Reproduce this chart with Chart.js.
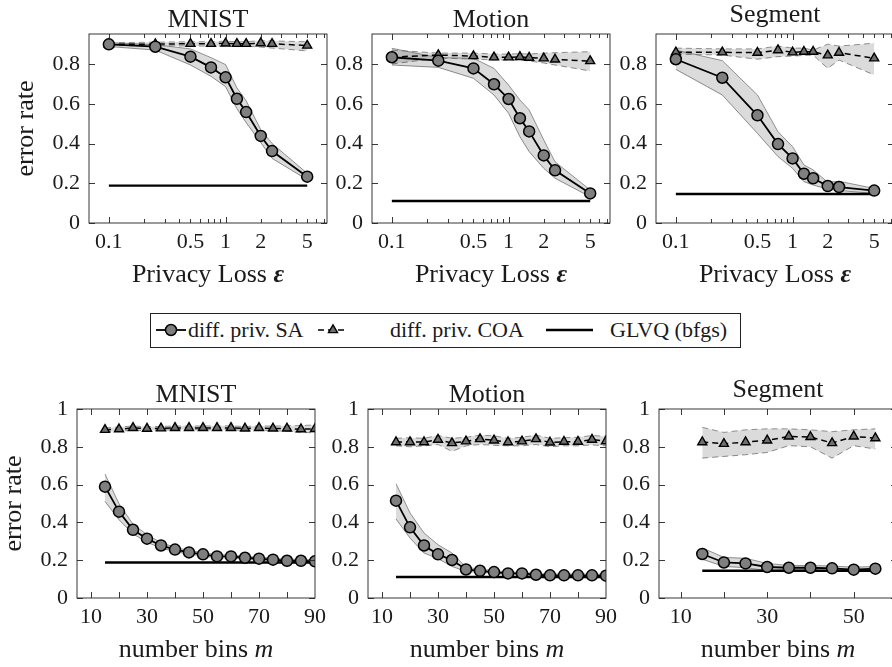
<!DOCTYPE html>
<html>
<head>
<meta charset="utf-8">
<script src="https://cdn.jsdelivr.net/npm/chart.js@4.4.1/dist/chart.umd.min.js"></script>
<style>
  body { margin: 0; background: #fff; }
  #fig { position: relative; width: 892px; height: 667px; overflow: hidden; background: #fff; }
  #fig canvas { position: absolute; }
  #legend { position: absolute; left: 150px; top: 313px; width: 591px; height: 35px; border: 1px solid #222; box-sizing: border-box;
            font-family: "Liberation Serif", "Times New Roman", serif; font-size: 22px; color: #1a1a1a; }
  #legend span, #legend svg { position: absolute; }
  #legend span { top: 4px; line-height: 24px; white-space: pre; }
  #legend svg { top: 6px; }
</style>
</head>
<body>
<div id="fig">
  <div id="legend">
    <svg style="left:4px" width="32" height="20">
      <line x1="1" y1="10" x2="31" y2="10" stroke="#000" stroke-width="1.8"/>
      <circle cx="16" cy="10" r="5.5" fill="#7f7f7f" stroke="#000" stroke-width="1.5"/>
    </svg>
    <span style="left:37px">diff. priv. SA</span>
    <svg style="left:166px" width="32" height="20">
      <line x1="1" y1="10" x2="31" y2="10" stroke="#000" stroke-width="1.5" stroke-dasharray="6 4"/>
      <polygon points="16,4.8 20.5,12.6 11.5,12.6" fill="#6f6f6f" stroke="#000" stroke-width="1.4"/>
    </svg>
    <span style="left:239px">diff. priv. COA</span>
    <svg style="left:394px" width="50" height="20">
      <line x1="1" y1="10" x2="48" y2="10" stroke="#000" stroke-width="2.4"/>
    </svg>
    <span style="left:459px">GLVQ (bfgs)</span>
  </div>
</div>
<script>
// privacy loss epsilon (top row) and number of bins (bottom row)
const eps = [0.1, 0.25, 0.5, 0.75, 1, 1.25, 1.5, 2, 2.5, 5];
const bins = [15, 20, 25, 30, 35, 40, 45, 50, 55, 60, 65, 70, 75, 80, 85, 90];
const binsSeg = [15, 20, 25, 30, 35, 40, 45, 50, 55];

// top row - MNIST
const mnistEpsSA   = [0.899, 0.887, 0.837, 0.783, 0.733, 0.625, 0.558, 0.438, 0.362, 0.233];
const mnistEpsSALo = [0.888, 0.870, 0.795, 0.738, 0.686, 0.575, 0.505, 0.405, 0.325, 0.218];
const mnistEpsSAHi = [0.908, 0.897, 0.876, 0.832, 0.797, 0.680, 0.615, 0.470, 0.400, 0.250];
const mnistEpsCOA   = [0.900, 0.900, 0.902, 0.902, 0.904, 0.902, 0.902, 0.905, 0.902, 0.893];
const mnistEpsCOALo = [0.893, 0.892, 0.890, 0.890, 0.890, 0.890, 0.890, 0.885, 0.880, 0.866];
const mnistEpsCOAHi = [0.907, 0.910, 0.912, 0.912, 0.915, 0.912, 0.912, 0.918, 0.916, 0.912];
const mnistGLVQ = 0.188;

// top row - Motion
const motionEpsSA   = [0.834, 0.817, 0.778, 0.698, 0.624, 0.527, 0.461, 0.340, 0.265, 0.149];
const motionEpsSALo = [0.795, 0.783, 0.728, 0.644, 0.552, 0.434, 0.359, 0.275, 0.225, 0.132];
const motionEpsSAHi = [0.879, 0.832, 0.829, 0.778, 0.694, 0.619, 0.569, 0.418, 0.308, 0.166];
const motionEpsCOA   = [0.835, 0.845, 0.840, 0.834, 0.834, 0.836, 0.832, 0.829, 0.823, 0.815];
const motionEpsCOALo = [0.800, 0.830, 0.825, 0.820, 0.820, 0.820, 0.815, 0.805, 0.795, 0.765];
const motionEpsCOAHi = [0.870, 0.855, 0.855, 0.850, 0.850, 0.852, 0.850, 0.855, 0.857, 0.862];
const motionGLVQ = 0.111;

// top row - Segment
const segEpsSA   = [0.824, 0.731, 0.542, 0.397, 0.325, 0.248, 0.225, 0.186, 0.181, 0.163];
const segEpsSALo = [0.773, 0.644, 0.451, 0.334, 0.275, 0.208, 0.191, 0.170, 0.163, 0.149];
const segEpsSAHi = [0.870, 0.817, 0.644, 0.459, 0.384, 0.292, 0.267, 0.205, 0.210, 0.174];
const segEpsCOA   = [0.859, 0.859, 0.857, 0.870, 0.859, 0.862, 0.862, 0.844, 0.857, 0.829];
const segEpsCOALo = [0.850, 0.845, 0.824, 0.837, 0.840, 0.843, 0.845, 0.778, 0.820, 0.745];
const segEpsCOAHi = [0.880, 0.876, 0.876, 0.890, 0.880, 0.880, 0.870, 0.900, 0.890, 0.905];
const segGLVQ = 0.146;

// bottom row - MNIST
const mnistBinSA   = [0.589, 0.457, 0.361, 0.314, 0.278, 0.256, 0.241, 0.231, 0.220, 0.220, 0.213, 0.208, 0.203, 0.197, 0.197, 0.194];
const mnistBinSALo = [0.511, 0.414, 0.339, 0.295, 0.264, 0.245, 0.232, 0.222, 0.212, 0.212, 0.205, 0.200, 0.195, 0.190, 0.190, 0.187];
const mnistBinSAHi = [0.656, 0.499, 0.390, 0.335, 0.293, 0.268, 0.251, 0.240, 0.229, 0.228, 0.221, 0.216, 0.211, 0.205, 0.205, 0.202];
const mnistBinCOA   = [0.890, 0.893, 0.900, 0.896, 0.898, 0.900, 0.900, 0.900, 0.900, 0.900, 0.897, 0.900, 0.897, 0.897, 0.893, 0.895];
const mnistBinCOALo = [0.880, 0.882, 0.888, 0.886, 0.888, 0.890, 0.890, 0.890, 0.890, 0.889, 0.887, 0.889, 0.885, 0.882, 0.876, 0.874];
const mnistBinCOAHi = [0.900, 0.905, 0.910, 0.906, 0.908, 0.910, 0.910, 0.910, 0.910, 0.911, 0.907, 0.911, 0.909, 0.912, 0.912, 0.916];

// bottom row - Motion
const motionBinSA   = [0.515, 0.374, 0.278, 0.231, 0.201, 0.151, 0.144, 0.137, 0.130, 0.130, 0.123, 0.120, 0.120, 0.120, 0.120, 0.118];
const motionBinSALo = [0.418, 0.317, 0.238, 0.208, 0.167, 0.140, 0.136, 0.130, 0.123, 0.123, 0.116, 0.113, 0.113, 0.113, 0.113, 0.111];
const motionBinSAHi = [0.605, 0.450, 0.344, 0.282, 0.238, 0.162, 0.153, 0.145, 0.137, 0.137, 0.130, 0.127, 0.127, 0.127, 0.127, 0.125];
const motionBinCOA   = [0.825, 0.825, 0.825, 0.838, 0.820, 0.829, 0.841, 0.834, 0.825, 0.829, 0.841, 0.823, 0.827, 0.827, 0.838, 0.830];
const motionBinCOALo = [0.805, 0.800, 0.805, 0.812, 0.776, 0.805, 0.812, 0.808, 0.805, 0.805, 0.812, 0.800, 0.805, 0.805, 0.810, 0.805];
const motionBinCOAHi = [0.845, 0.848, 0.845, 0.860, 0.845, 0.850, 0.862, 0.858, 0.845, 0.850, 0.862, 0.845, 0.848, 0.850, 0.860, 0.855];

// bottom row - Segment
const segBinSA   = [0.233, 0.188, 0.183, 0.164, 0.160, 0.160, 0.157, 0.150, 0.155];
const segBinSALo = [0.205, 0.167, 0.160, 0.145, 0.148, 0.148, 0.145, 0.138, 0.143];
const segBinSAHi = [0.265, 0.215, 0.210, 0.183, 0.172, 0.172, 0.169, 0.163, 0.167];
const segBinCOA   = [0.825, 0.816, 0.825, 0.834, 0.855, 0.852, 0.820, 0.855, 0.846];
const segBinCOALo = [0.740, 0.749, 0.758, 0.770, 0.806, 0.800, 0.740, 0.806, 0.788];
const segBinCOAHi = [0.903, 0.876, 0.890, 0.895, 0.895, 0.890, 0.880, 0.890, 0.895];
const segBinGLVQ = 0.144;

// axis ticks
const epsLabels = [0.1, 0.5, 1, 2, 5];
const epsMajor = [0.1, 1];
const epsMinor = [0.2, 0.3, 0.4, 0.5, 0.6, 0.7, 0.8, 0.9, 2, 3, 4, 5, 6, 7];
const errTopTicks = [0, 0.2, 0.4, 0.6, 0.8];
const errBotTicks = [0, 0.2, 0.4, 0.6, 0.8, 1];
const binLabels = [10, 30, 50, 70, 90];
const binTicks = [10, 20, 30, 40, 50, 60, 70, 80, 90];

const FONT = '"Liberation Serif", "Times New Roman", serif';
const INK = '#1a1a1a';
const BAND = 'rgba(0,0,0,0.14)';
const PLOT_W = 238, PLOT_H = 189;

Chart.defaults.font.family = FONT;
Chart.defaults.color = INK;

// frame plus inward tick marks on all four sides (pgfplots style)
const frame = {
  id: 'frame',
  afterDatasetsDraw(chart, args, o) {
    const { ctx, chartArea: a, scales: { x, y } } = chart;
    ctx.save();
    ctx.strokeStyle = '#222';
    ctx.lineWidth = 0.9;
    ctx.beginPath();
    const xt = (vals, len) => vals.forEach(v => {
      const p = Math.round(x.getPixelForValue(v)) + 0.5;
      if (p < a.left || p > a.right) return;
      ctx.moveTo(p, a.bottom); ctx.lineTo(p, a.bottom - len);
      ctx.moveTo(p, a.top); ctx.lineTo(p, a.top + len);
    });
    xt(o.xMajor, 6);
    xt(o.xMinor || [], 4);
    o.yTicks.forEach(v => {
      const p = Math.round(y.getPixelForValue(v)) + 0.5;
      ctx.moveTo(a.left, p); ctx.lineTo(a.left + 6, p);
      ctx.moveTo(a.right, p); ctx.lineTo(a.right - 6, p);
    });
    ctx.stroke();
    ctx.strokeRect(a.left, a.top, a.right - a.left, a.bottom - a.top);
    ctx.restore();
  }
};

// panel title, x label (with italic math part) and y label
const texts = {
  id: 'texts',
  afterDraw(chart, args, o) {
    const { ctx, chartArea: a } = chart;
    const cx = (a.left + a.right) / 2;
    ctx.save();
    ctx.fillStyle = INK;
    ctx.textBaseline = 'alphabetic';
    ctx.font = '26px ' + FONT;
    ctx.textAlign = 'center';
    const d = ctx.measureText(o.title).actualBoundingBoxDescent;
    ctx.fillText(o.title, cx, a.top - 7 - d);

    ctx.textAlign = 'left';
    const ws = o.xlabel.map(([t, f]) => { ctx.font = f + '26px ' + FONT; return ctx.measureText(t).width; });
    let xx = cx - ws.reduce((s, w) => s + w, 0) / 2;
    o.xlabel.forEach(([t, f], i) => {
      ctx.font = f + '26px ' + FONT;
      ctx.fillText(t, xx, a.bottom + 59);
      xx += ws[i];
    });

    if (o.ylabel) {
      ctx.font = '26px ' + FONT;
      ctx.textAlign = 'center';
      ctx.translate(a.left - 56, (a.top + a.bottom) / 2);
      ctx.rotate(-Math.PI / 2);
      ctx.fillText(o.ylabel, 0, 0);
    }
    ctx.restore();
  }
};

const pts = (xs, ys) => xs.map((x, i) => ({ x, y: ys[i] }));

function panel(p) {
  const padL = 75, padT = 40, padR = 24, padB = 72;
  const cv = document.createElement('canvas');
  cv.width = padL + PLOT_W + padR;
  cv.height = padT + PLOT_H + padB;
  cv.style.left = (p.left - padL) + 'px';
  cv.style.top = (p.top - padT) + 'px';
  document.getElementById('fig').appendChild(cv);

  const xs = p.xs;
  const glvq = [{ x: xs[0], y: p.glvq }, { x: xs[xs.length - 1], y: p.glvq }];

  new Chart(cv, {
    type: 'line',
    data: {
      datasets: [
        { data: pts(xs, p.sa), borderColor: '#000', borderWidth: 1.8, pointStyle: 'circle', pointRadius: 5.5,
          pointBackgroundColor: '#7f7f7f', pointBorderColor: '#000', pointBorderWidth: 1.5 },
        { data: pts(xs, p.coa), borderColor: '#000', borderWidth: 1.5, borderDash: [6, 4], pointStyle: 'triangle', pointRadius: 5.2,
          pointBackgroundColor: '#6f6f6f', pointBorderColor: '#000', pointBorderWidth: 1.4 },
        { data: glvq, borderColor: '#000', borderWidth: 2.4, pointRadius: 0 },
        { data: pts(xs, p.saHi), borderColor: '#666', borderWidth: 0.7, pointRadius: 0, fill: '+1', backgroundColor: BAND },
        { data: pts(xs, p.saLo), borderColor: '#666', borderWidth: 0.7, pointRadius: 0 },
        { data: pts(xs, p.coaHi), borderColor: '#666', borderWidth: 0.7, borderDash: [6, 4], pointRadius: 0, fill: '+1', backgroundColor: BAND },
        { data: pts(xs, p.coaLo), borderColor: '#666', borderWidth: 0.7, borderDash: [6, 4], pointRadius: 0 }
      ]
    },
    options: {
      responsive: false,
      animation: false,
      devicePixelRatio: 1,
      events: [],
      layout: { autoPadding: false, padding: { left: 0, top: padT, right: padR, bottom: 0 } },
      plugins: {
        legend: { display: false },
        tooltip: { enabled: false },
        frame: { xMajor: p.xMajor, xMinor: p.xMinor, yTicks: p.yTicks },
        texts: { title: p.title, xlabel: p.xlabel, ylabel: p.ylabel }
      },
      scales: {
        x: {
          type: p.xType, min: p.xMin, max: p.xMax,
          grid: { display: false, drawTicks: false }, border: { display: false },
          afterBuildTicks: s => { s.ticks = p.xLabels.map(v => ({ value: v })); },
          afterFit: s => { s.height = padB; },
          ticks: { autoSkip: false, maxRotation: 0, padding: 6, color: INK, font: { family: FONT, size: 22 },
                   callback: v => String(v) }
        },
        y: {
          type: 'linear', min: 0, max: p.yMax,
          grid: { display: false, drawTicks: false }, border: { display: false },
          afterBuildTicks: s => { s.ticks = p.yTicks.map(v => ({ value: v })); },
          afterFit: s => { s.width = padL; },
          ticks: { padding: 9, color: INK, font: { family: FONT, size: 22 },
                   callback: v => (v === 0 || v === 1) ? String(v) : v.toFixed(1) }
        }
      }
    },
    plugins: [frame, texts]
  });
}

const epsLabel = [['Privacy Loss ', ''], ['\u03B5', 'italic bold ']];
const binLabel = [['number bins ', ''], ['m', 'italic ']];
const topRow = { xs: eps, xType: 'logarithmic', xMin: 0.0676, xMax: 7.39, xLabels: epsLabels, xMajor: epsMajor, xMinor: epsMinor,
                 yTicks: errTopTicks, yMax: 0.951, top: 34, xlabel: epsLabel };
const botRow = { xs: bins, xType: 'linear', xMin: 5, xMax: 90, xLabels: binLabels, xMajor: binTicks,
                 yTicks: errBotTicks, yMax: 1, top: 409, xlabel: binLabel };

panel({ ...topRow, left: 89, title: 'MNIST', ylabel: 'error rate', glvq: mnistGLVQ,
        sa: mnistEpsSA, saLo: mnistEpsSALo, saHi: mnistEpsSAHi, coa: mnistEpsCOA, coaLo: mnistEpsCOALo, coaHi: mnistEpsCOAHi });
panel({ ...topRow, left: 372, title: 'Motion', glvq: motionGLVQ,
        sa: motionEpsSA, saLo: motionEpsSALo, saHi: motionEpsSAHi, coa: motionEpsCOA, coaLo: motionEpsCOALo, coaHi: motionEpsCOAHi });
panel({ ...topRow, left: 656, title: 'Segment', glvq: segGLVQ,
        sa: segEpsSA, saLo: segEpsSALo, saHi: segEpsSAHi, coa: segEpsCOA, coaLo: segEpsCOALo, coaHi: segEpsCOAHi });

panel({ ...botRow, left: 77, title: 'MNIST', ylabel: 'error rate', glvq: mnistGLVQ,
        sa: mnistBinSA, saLo: mnistBinSALo, saHi: mnistBinSAHi, coa: mnistBinCOA, coaLo: mnistBinCOALo, coaHi: mnistBinCOAHi });
panel({ ...botRow, left: 368, title: 'Motion', glvq: motionGLVQ,
        sa: motionBinSA, saLo: motionBinSALo, saHi: motionBinSAHi, coa: motionBinCOA, coaLo: motionBinCOALo, coaHi: motionBinCOAHi });
panel({ ...botRow, left: 659, title: 'Segment', glvq: segBinGLVQ, xs: binsSeg, xMax: 60, xLabels: [10, 30, 50],
        xMajor: [10, 20, 30, 40, 50, 60],
        sa: segBinSA, saLo: segBinSALo, saHi: segBinSAHi, coa: segBinCOA, coaLo: segBinCOALo, coaHi: segBinCOAHi });
</script>
</body>
</html>
